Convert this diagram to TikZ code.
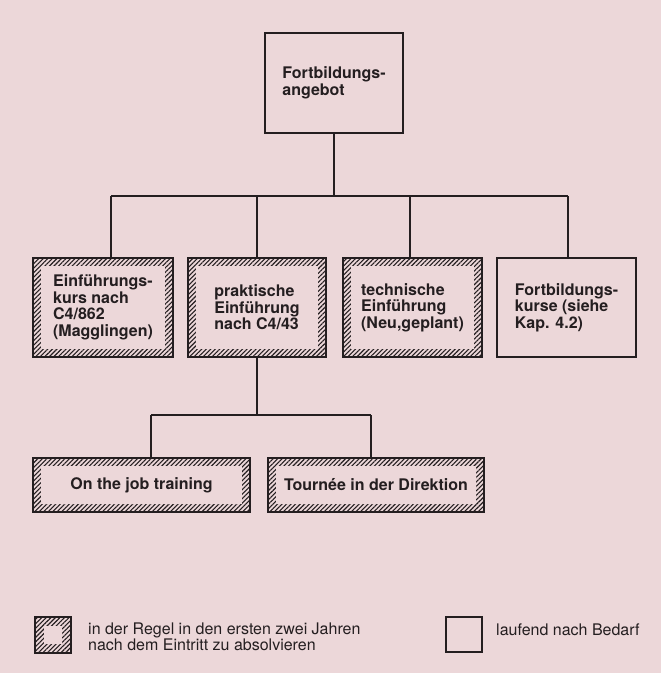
\documentclass[tikz,border=0pt]{standalone}
\usepackage{fontspec}
\setmainfont{TeX Gyre Heros}
\usetikzlibrary{patterns.meta}
\definecolor{bg}{RGB}{236,215,217}
\definecolor{ink}{RGB}{36,30,32}
\tikzset{
  boxbase/.style={draw=ink, line width=2.7pt, rectangle, outer sep=0pt, inner sep=2pt,
    align=left, text=ink, font=\fontsize{16}{16.5}\selectfont\bfseries},
  plainbox/.style={boxbase},
  hatchbox/.style={boxbase, path picture={
      \fill[pattern={Lines[angle=45,distance=3.2pt,line width=1.1pt]}, pattern color=ink]
        (path picture bounding box.south west) rectangle (path picture bounding box.north east);
      \fill[bg] ([shift={(#1pt,-#1pt)}]path picture bounding box.north west)
        rectangle ([shift={(-#1pt,#1pt)}]path picture bounding box.south east);
    }},
  conn/.style={draw=ink, line width=1.5pt},
  legtext/.style={anchor=west, inner sep=0pt, align=left, text=ink,
    font=\fontsize{16}{15.5}\selectfont}
}
\begin{document}
\begin{tikzpicture}[x=1pt,y=-1pt]
\fill[bg] (0,0) rectangle (661,673);
\useasboundingbox (0,0) rectangle (661,673);

\node[plainbox, minimum width=138pt, minimum height=100pt] (top) at (334,83) {Fortbildungs-\\angebot};

\node[hatchbox=8, minimum width=140pt, minimum height=99pt] (b1) at (103,307.5) {Einführungs-\\kurs nach\\C4/862\\(Magglingen)};
\node[hatchbox=8, minimum width=138pt, minimum height=99pt] (b2) at (257,307.5) {praktische\\Einführung\\nach C4/43};
\node[hatchbox=8, minimum width=139pt, minimum height=99pt] (b3) at (412.5,307.5) {technische\\Einführung\\(Neu,geplant)};
\node[plainbox, minimum width=139pt, minimum height=99pt] (b4) at (566.5,307.5) {Fortbildungs-\\kurse (siehe\\Kap. 4.2)};

\node[hatchbox=8, minimum width=217pt, minimum height=54pt] (b5) at (141.5,485) {On the job training};
\node[hatchbox=8, minimum width=216pt, minimum height=54pt, inner sep=0pt] (b6) at (376,485) {Tournée in der Direktion};

% connectors
\coordinate (bus) at (0,196);
\coordinate (bus2) at (0,415);
\coordinate (b1t) at ([xshift=8pt]b1.north);
\coordinate (b3t) at ([xshift=-2.5pt]b3.north);
\coordinate (b4t) at ([xshift=1.5pt]b4.north);
\coordinate (b5t) at ([xshift=9.5pt]b5.north);
\coordinate (b6t) at ([xshift=-5pt]b6.north);

\draw[conn] (top.south) -- (top.south |- bus);
\draw[conn] (b1t |- bus) -- (b4t |- bus);
\draw[conn] (b1t |- bus) -- (b1t);
\draw[conn] (b2.north |- bus) -- (b2.north);
\draw[conn] (b3t |- bus) -- (b3t);
\draw[conn] (b4t |- bus) -- (b4t);

\draw[conn] (b2.south) -- (b2.south |- bus2);
\draw[conn] (b5t |- bus2) -- (b6t |- bus2);
\draw[conn] (b5t |- bus2) -- (b5t);
\draw[conn] (b6t |- bus2) -- (b6t);

% legend
\node[hatchbox=9, line width=2.2pt, minimum width=36pt, minimum height=36pt, inner sep=0pt] (lh) at (53,635) {};
\node[legtext] (lht) at (88,637) {in der Regel in den ersten zwei Jahren\\nach dem Eintritt zu absolvieren};
\node[plainbox, line width=2.2pt, minimum width=36pt, minimum height=35pt, inner sep=0pt] (lp) at (464,634.5) {};
\node[legtext] (lpt) at (496,630) {laufend nach Bedarf};
\end{tikzpicture}
\end{document}
